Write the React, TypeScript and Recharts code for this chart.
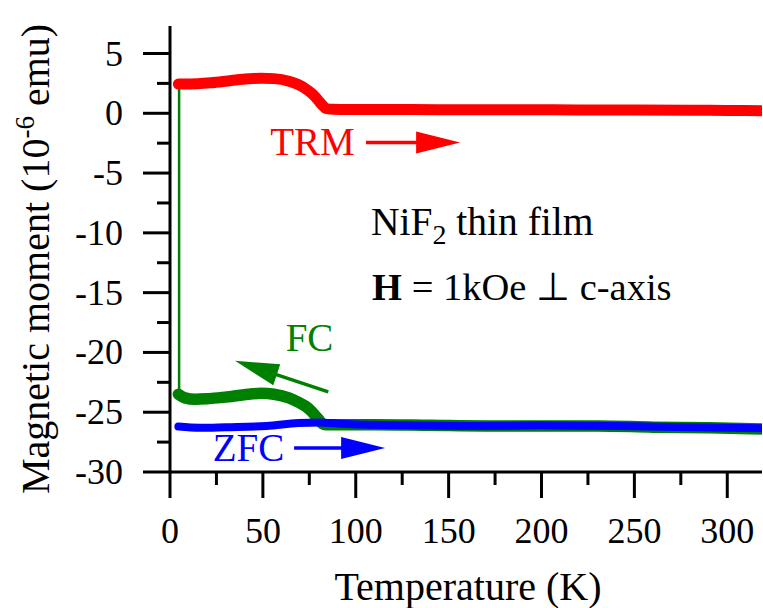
import React from "react";
import { LineChart, Line, XAxis, YAxis, ReferenceLine, ReferenceDot, Label } from "recharts";

// ---- data ----
const T_TRM = [4.5, 10, 15, 22, 33, 42, 49, 56, 64, 69, 73, 76, 78, 80, 82, 84, 88, 100, 130, 160, 190, 220, 250, 280, 300, 320];
const M_TRM = [2.44, 2.45, 2.47, 2.55, 2.74, 2.88, 2.94, 2.9, 2.68, 2.4, 2.05, 1.7, 1.4, 1.05, 0.68, 0.4, 0.33, 0.32, 0.31, 0.3, 0.3, 0.28, 0.27, 0.25, 0.24, 0.22];

const T_FC = [4.5, 8, 13.5, 20, 27, 33, 42, 49, 56, 64, 69, 73, 76, 78, 80, 82, 84, 90, 110, 140, 170, 200, 230, 260, 290, 320];
const M_FC = [-23.5, -23.8, -23.92, -23.88, -23.78, -23.68, -23.5, -23.42, -23.5, -23.8, -24.15, -24.5, -24.9, -25.25, -25.6, -25.95, -26.05, -26.05, -26.05, -26.1, -26.15, -26.15, -26.15, -26.25, -26.3, -26.4];

const T_ZFC = [4.5, 16, 30, 52, 69, 81, 90, 97, 124, 160, 200, 240, 280, 320];
const M_ZFC = [-26.2, -26.3, -26.25, -26.15, -25.9, -25.85, -25.95, -26.0, -26.1, -26.15, -26.1, -26.15, -26.25, -26.35];

const T_JUMP = [4.9, 4.9];
const M_JUMP = [2.44, -23.5];

const X_TICKS = [0, 25, 50, 75, 100, 125, 150, 175, 200, 225, 250, 275, 300];
const X_LABELS = [0, 50, 100, 150, 200, 250, 300];
const Y_TICKS = [-30, -27.5, -25, -22.5, -20, -17.5, -15, -12.5, -10, -7.5, -5, -2.5, 0, 2.5, 5];
const Y_LABELS = [-30, -25, -20, -15, -10, -5, 0, 5];

// annotation arrows: [tailT, tailM, tipT, tipM]
const ARROW_TRM = [105.5, -2.44, 156.2, -2.44];
const ARROW_FC = [85.2, -23.3, 35.0, -20.7];
const ARROW_ZFC = [66.8, -28.0, 115.8, -28.0];

// annotation labels: text, T, M
const LABEL_TRM = { text: "TRM", t: 76.7, m: -3.5 };
const LABEL_FC = { text: "FC", t: 75.1, m: -19.85 };
const LABEL_ZFC = { text: "ZFC", t: 42.3, m: -29.1 };
const NOTE_1 = { t: 108.2, m: -10.15 };
const NOTE_2 = { t: 108.8, m: -15.6 };

const RED = "#ff0000";
const GREEN = "#008000";
const BLUE = "#0000ff";
const FONT = '"Liberation Serif", serif';
const FS = { fontFamily: FONT };

const toPts = (ts: number[], ms: number[]) => ts.map((t, i) => ({ t, m: ms[i] }));
const trmData = toPts(T_TRM, M_TRM);
const fcData = toPts(T_FC, M_FC);
const zfcData = toPts(T_ZFC, M_ZFC);
const jumpData = toPts(T_JUMP, M_JUMP);

const W = 763;
const H = 608;
const TICK_FS = 36;

const BottomTick = (p: any) => {
  const v = p.payload.value;
  const major = X_LABELS.includes(v);
  return (
    <g>
      <line x1={p.x} y1={p.y} x2={p.x} y2={p.y + (major ? 26 : 13)} stroke="#000" strokeWidth={3} />
      {major && (
        <text x={p.x} y={p.y + 71} textAnchor="middle" style={FS} fontSize={TICK_FS} fill="#000">
          {v}
        </text>
      )}
    </g>
  );
};

const TopTick = (p: any) => {
  const v = p.payload.value;
  const major = X_LABELS.includes(v);
  return <line x1={p.x} y1={p.y} x2={p.x} y2={p.y + (major ? 27 : 13)} stroke="#000" strokeWidth={3} />;
};

const LeftTick = (p: any) => {
  const v = p.payload.value;
  const major = Y_LABELS.includes(v);
  return (
    <g>
      <line x1={p.x - (major ? 27 : 13)} y1={p.y} x2={p.x} y2={p.y} stroke="#000" strokeWidth={3} />
      {major && (
        <text x={p.x - 47} y={p.y + 12} textAnchor="end" style={FS} fontSize={TICK_FS} fill="#000">
          {v}
        </text>
      )}
    </g>
  );
};

const RightTick = (p: any) => {
  const v = p.payload.value;
  const major = Y_LABELS.includes(v);
  return <line x1={p.x - (major ? 26 : 12)} y1={p.y} x2={p.x} y2={p.y} stroke="#000" strokeWidth={3} />;
};

const arrowShape = (color: string) => (p: any) => {
  const { x1, y1, x2, y2 } = p;
  const dx = x2 - x1;
  const dy = y2 - y1;
  const len = Math.sqrt(dx * dx + dy * dy) || 1;
  const ux = dx / len;
  const uy = dy / len;
  const head = 44;
  const half = 11;
  const bx = x2 - ux * head;
  const by = y2 - uy * head;
  const px = -uy * half;
  const py = ux * half;
  return (
    <g>
      <line x1={x1} y1={y1} x2={bx + ux * 2} y2={by + uy * 2} stroke={color} strokeWidth={3.5} />
      <polygon points={`${x2},${y2} ${bx + px},${by + py} ${bx - px},${by - py}`} fill={color} />
    </g>
  );
};

const textShape = (text: string, color: string) => (p: any) => (
  <text x={p.cx} y={p.cy} textAnchor="middle" style={FS} fontSize={39} fill={color}>
    {text}
  </text>
);

const note1Shape = (p: any) => (
  <text x={p.cx} y={p.cy} style={FS} fontSize={39.5} fill="#000">
    NiF
    <tspan dy={9} fontSize={28}>2</tspan>
    <tspan dy={-9}> thin film</tspan>
  </text>
);

const note2Shape = (p: any) => (
  <text x={p.cx} y={p.cy} style={FS} fontSize={38.5} fill="#000">
    <tspan fontWeight="bold">H</tspan>
    <tspan> = 1kOe ⊥ c-axis</tspan>
  </text>
);

const yTitle = () => {
  const cx = 49;
  const cy = 259;
  return (
    <text
      x={cx}
      y={cy}
      transform={`rotate(-90, ${cx}, ${cy})`}
      textAnchor="middle"
      style={FS}
      fontSize={40}
      fill="#000"
    >
      Magnetic moment (10
      <tspan dy={-15} fontSize={27}>-6</tspan>
      <tspan dy={15}> emu)</tspan>
    </text>
  );
};

const xTitle = (p: any) => {
  const vb = p.viewBox || { x: 170, y: 472, width: 592 };
  return (
    <text x={vb.x + vb.width / 2 + 2} y={600} textAnchor="middle" style={FS} fontSize={40} fill="#000">
      Temperature (K)
    </text>
  );
};

export default function App() {
  return (
    <div style={{ position: "absolute", left: 0, top: 0, width: W, height: H, background: "#fff", fontFamily: FONT }}>
      <LineChart width={W} height={H} margin={{ top: 26, right: 1, left: 0, bottom: 0 }}>
        <XAxis
          xAxisId="b"
          dataKey="t"
          type="number"
          orientation="bottom"
          domain={[0, 318.7]}
          allowDataOverflow
          ticks={X_TICKS}
          interval={0}
          tickSize={0}
          tickMargin={0}
          tickLine={false}
          tick={BottomTick}
          axisLine={{ stroke: "#000", strokeWidth: 3 }}
          height={136}
        >
          <Label content={xTitle} />
        </XAxis>
        <XAxis
          xAxisId="t"
          dataKey="t"
          type="number"
          orientation="top"
          domain={[0, 318.7]}
          allowDataOverflow
          ticks={X_TICKS}
          interval={0}
          tickSize={0}
          tickMargin={0}
          tickLine={false}
          tick={TopTick}
          axisLine={{ stroke: "#000", strokeWidth: 3 }}
          height={0}
        />
        <YAxis
          yAxisId="l"
          dataKey="m"
          type="number"
          orientation="left"
          domain={[-30, 7.3]}
          allowDataOverflow
          ticks={Y_TICKS}
          interval={0}
          tickSize={0}
          tickMargin={0}
          tickLine={false}
          tick={LeftTick}
          axisLine={{ stroke: "#000", strokeWidth: 3 }}
          width={170}
        >
          <Label content={yTitle} />
        </YAxis>
        <YAxis
          yAxisId="r"
          dataKey="m"
          type="number"
          orientation="right"
          domain={[-30, 7.3]}
          allowDataOverflow
          ticks={Y_TICKS}
          interval={0}
          tickSize={0}
          tickMargin={0}
          tickLine={false}
          tick={RightTick}
          axisLine={{ stroke: "#000", strokeWidth: 3 }}
          width={0}
        />

        <Line xAxisId="b" yAxisId="l" data={jumpData} dataKey="m" type="linear" stroke={GREEN} strokeWidth={2.5} dot={false} isAnimationActive={false} />
        <Line xAxisId="b" yAxisId="l" data={fcData} dataKey="m" type="monotone" stroke={GREEN} strokeWidth={11.5} strokeLinecap="round" strokeLinejoin="round" dot={false} isAnimationActive={false} />
        <Line xAxisId="b" yAxisId="l" data={zfcData} dataKey="m" type="monotone" stroke={BLUE} strokeWidth={8} strokeLinecap="round" strokeLinejoin="round" dot={false} isAnimationActive={false} />
        <Line xAxisId="b" yAxisId="l" data={trmData} dataKey="m" type="monotone" stroke={RED} strokeWidth={11} strokeLinecap="round" strokeLinejoin="round" dot={false} isAnimationActive={false} />

        <ReferenceLine xAxisId="b" yAxisId="l" segment={[{ x: ARROW_TRM[0], y: ARROW_TRM[1] }, { x: ARROW_TRM[2], y: ARROW_TRM[3] }]} shape={arrowShape(RED)} />
        <ReferenceLine xAxisId="b" yAxisId="l" segment={[{ x: ARROW_FC[0], y: ARROW_FC[1] }, { x: ARROW_FC[2], y: ARROW_FC[3] }]} shape={arrowShape(GREEN)} />
        <ReferenceLine xAxisId="b" yAxisId="l" segment={[{ x: ARROW_ZFC[0], y: ARROW_ZFC[1] }, { x: ARROW_ZFC[2], y: ARROW_ZFC[3] }]} shape={arrowShape(BLUE)} />

        <ReferenceDot xAxisId="b" yAxisId="l" x={LABEL_TRM.t} y={LABEL_TRM.m} shape={textShape(LABEL_TRM.text, RED)} />
        <ReferenceDot xAxisId="b" yAxisId="l" x={LABEL_FC.t} y={LABEL_FC.m} shape={textShape(LABEL_FC.text, GREEN)} />
        <ReferenceDot xAxisId="b" yAxisId="l" x={LABEL_ZFC.t} y={LABEL_ZFC.m} shape={textShape(LABEL_ZFC.text, BLUE)} />
        <ReferenceDot xAxisId="b" yAxisId="l" x={NOTE_1.t} y={NOTE_1.m} shape={note1Shape} />
        <ReferenceDot xAxisId="b" yAxisId="l" x={NOTE_2.t} y={NOTE_2.m} shape={note2Shape} />
      </LineChart>
    </div>
  );
}
